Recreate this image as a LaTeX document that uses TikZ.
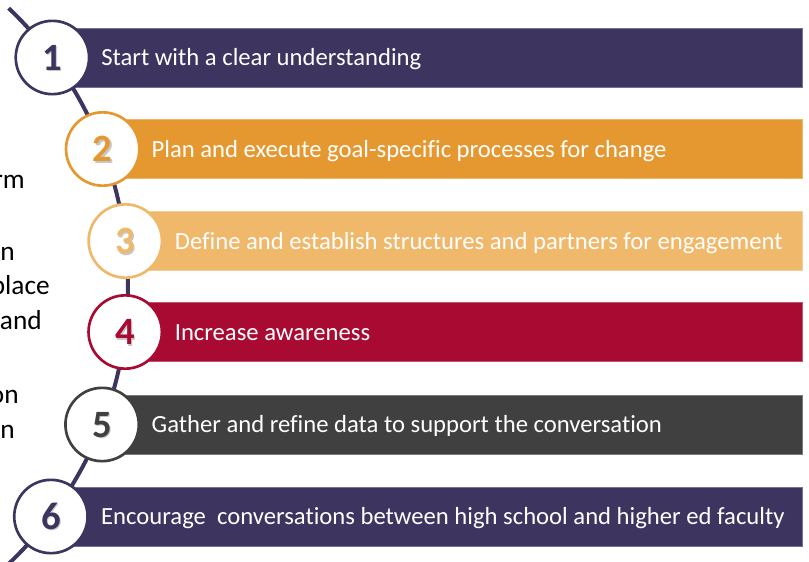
\documentclass[tikz,border=0pt]{standalone}
\usepackage{fontspec}
\setmainfont{Carlito}[Ligatures=NoCommon]
\definecolor{cpurple}{HTML}{3D3460}
\definecolor{corange}{HTML}{E69830}
\definecolor{clight}{HTML}{F0B86A}
\definecolor{ccrimson}{HTML}{A80A32}
\definecolor{cgray}{HTML}{404040}
\begin{document}
\begin{tikzpicture}[x=0.75pt,y=-0.75pt,
  barbox/.style={rectangle, fill=#1, draw=#1!70!white, line width=0.5pt, minimum height=44pt, inner sep=0, anchor=west},
  bartext/.style={anchor=base west, text=white, font=\fontsize{18.5}{22}\selectfont, inner sep=0},
  numcirc/.style={circle, draw=#1, fill=white, line width=2pt, minimum size=55pt, inner sep=0},
  numtext/.style={anchor=base, text=#1, font=\fontsize{29}{34}\selectfont\bfseries, inner sep=0},
  numshadow/.style={anchor=base, text=black!22, font=\fontsize{29}{34}\selectfont\bfseries, inner sep=0},
  sidetext/.style={anchor=base east, text=black, font=\fontsize{20.5}{24}\selectfont, inner sep=0},
  track/.style={draw=cpurple, line width=3pt}
]
\useasboundingbox (0,0) rectangle (809,561);
\clip (0,0) rectangle (809,561);

% partially hidden text on the left
\node[sidetext] (s1) at (25,188) {rm};
\node[sidetext] (s2) at (15,260) {n};
\node[sidetext] (s3) at (50,294) {place};
\node[sidetext] (s4) at (42,329) {and};
\node[sidetext] (s5) at (19,403) {on};
\node[sidetext] (s6) at (15,438) {n};

% bars
\node[barbox=cpurple,  minimum width={(802-52.4)*0.75pt}] (b1) at (52.4,57.5) {};
\node[barbox=corange,  minimum width={(802-102.7)*0.75pt}] (b2) at (102.7,149) {};
\node[barbox=clight,   minimum width={(802-125.3)*0.75pt}] (b3) at (125.3,241) {};
\node[barbox=ccrimson, minimum width={(802-125.2)*0.75pt}] (b4) at (125.2,332) {};
\node[barbox=cgray,    minimum width={(802-102.1)*0.75pt}] (b5) at (102.1,424.5) {};
\node[barbox=cpurple,  minimum width={(802-50.9)*0.75pt}] (b6) at (50.9,516.5) {};

% track
\coordinate (arcc) at (-255,286);
\draw[track] (arcc) ++(-46.5:383) arc[start angle=-46.5, end angle=50, radius=383];

% circles
\node[numcirc=cpurple]  (c1) at (52.4,57.5) {};
\node[numcirc=corange]  (c2) at (102.7,149) {};
\node[numcirc=clight]   (c3) at (125.3,241) {};
\node[numcirc=ccrimson] (c4) at (125.2,332) {};
\node[numcirc=cgray]    (c5) at (102.1,424.5) {};
\node[numcirc=cpurple]  (c6) at (50.9,516.5) {};

% numbers
\foreach \n/\col in {1/cpurple,2/corange,3/clight,4/ccrimson,5/cgray,6/cpurple}{
  \node[numshadow] at ([xshift=1pt,yshift=-1.2pt]c\n.center) [yshift=-9.4pt] {\n};
  \node[numtext=\col] (n\n) at (c\n.center) [yshift=-9.4pt] {\n};
}

% bar texts
\node[bartext] (t1) at ([xshift=36.5pt,yshift=-6pt]b1.west) {Start with a clear understanding};
\node[bartext] (t2) at ([xshift=36.5pt,yshift=-6pt]b2.west) {Plan and execute goal-specific processes for change};
\node[bartext] (t3) at ([xshift=37pt,yshift=-6pt]b3.west) {Define and establish structures and partners for engagement};
\node[bartext] (t4) at ([xshift=37pt,yshift=-6pt]b4.west) {Increase awareness};
\node[bartext] (t5) at ([xshift=37pt,yshift=-6pt]b5.west) {Gather and refine data to support the conversation};
\node[bartext] (t6) at ([xshift=37.5pt,yshift=-6pt]b6.west) {Encourage\ \ conversations between high school and higher ed faculty};
\end{tikzpicture}
\end{document}
